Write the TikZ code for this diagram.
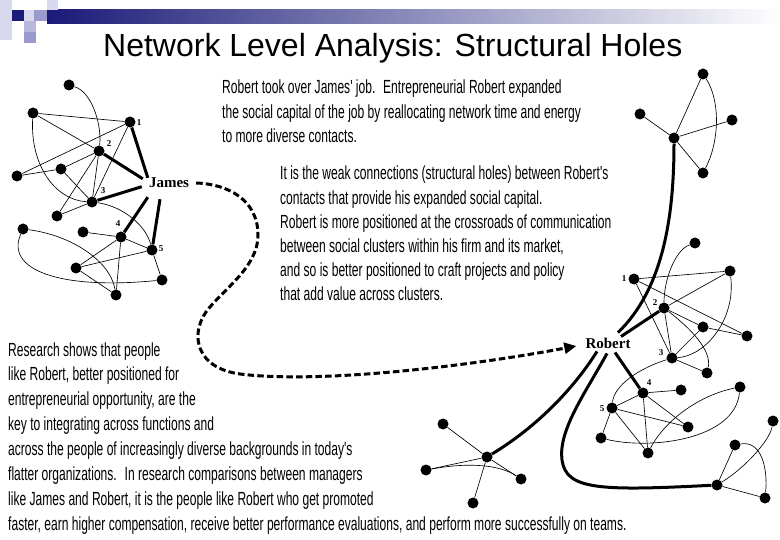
\documentclass[tikz,border=0pt]{standalone}
\usepackage{fontspec}
\setmainfont{Liberation Sans}
\newfontfamily\narrowfont[FakeStretch=0.635]{Liberation Sans}
\newfontfamily\labelserif{Liberation Serif}
\usetikzlibrary{arrows.meta,calc}
\definecolor{navy}{HTML}{1A1A78}
\definecolor{lav}{HTML}{9A9ACC}
\definecolor{lavlight}{HTML}{D8D8EE}
\definecolor{lavmid}{HTML}{B8B8DC}
\begin{document}
\begin{tikzpicture}[x=1pt,y=-1pt,
  dot/.style={circle,fill=black,inner sep=0pt,minimum size=11pt},
  tie/.style={line width=0.65pt},
  bond/.style={line width=3pt},
  body/.style={font=\narrowfont\fontsize{19}{20}\selectfont,anchor=base west,inner sep=0pt},
  num/.style={font=\labelserif\bfseries\fontsize{9}{9}\selectfont,inner sep=0pt},
  who/.style={font=\labelserif\bfseries\fontsize{15}{15}\selectfont,inner sep=1pt},
  trail/.style={line width=3pt,dash pattern=on 6.5pt off 3.2pt,-{Triangle[length=12pt,width=11pt]}}
  ]
\fill[white] (0,0) rectangle (780,540);
\useasboundingbox (0,0) rectangle (780,540);
% header
\shade[left color=navy,right color=white] (47,10) rectangle (780,24);
\fill[lavlight] (0,0) rectangle (12,40);
\fill[navy] (12,10) rectangle (24,21);
\fill[lavlight] (24,10) rectangle (34,21);
\fill[lav] (34,10) rectangle (47,21);
\fill[lavlight] (47,0) rectangle (58,10);
\fill[lavmid] (24,21) rectangle (36,32);
\fill[lav] (24,32) rectangle (36,43);
\node[anchor=base west,font=\fontsize{32}{32}\selectfont,inner sep=0pt] (title) at (103,57) {Network Level Analysis: Structural Holes};

% text blocks
\foreach \s [count=\i] in {{Robert took over James' job.~ Entrepreneurial Robert expanded},
  {the social capital of the job by reallocating network time and energy},
  {to more diverse contacts.}}
  \node[body] (ta-\i) at ({222},{94+(\i-1)*24.5}) {\s};
\foreach \s [count=\i] in {{It is the weak connections (structural holes) between Robert's},
  {contacts that provide his expanded social capital.},
  {Robert is more positioned at the crossroads of communication},
  {between social clusters within his firm and its market,},
  {and so is better positioned to craft projects and policy},
  {that add value across clusters.}}
  \node[body] (tb-\i) at ({280},{180+(\i-1)*24.2}) {\s};
\foreach \s [count=\i] in {{Research shows that people},
  {like Robert, better positioned for},
  {entrepreneurial opportunity, are the},
  {key to integrating across functions and},
  {across the people of increasingly diverse backgrounds in today's},
  {flatter organizations.~ In research comparisons between managers},
  {like James and Robert, it is the people like Robert who get promoted},
  {faster, earn higher compensation, receive better performance evaluations, and perform more successfully on teams.}}
  \node[body] (tc-\i) at ({8},{356+(\i-1)*24.9}) {\s};

% people
\node[who] (james) at (169,183) {James};
\node[who] (robert) at (608,343) {Robert};

% James network
\foreach \n/\x/\y in {j0/69/85, ja/33/113, j1/130/122, j2/99/151, jb/61/169, jc/17/176,
  j3/92/202, jd/57/216, je/23/229, jf/83/232, j4/121/237, j5/152/250, jg/76/268,
  jh/162/280, ji/116/295}
  \node[dot] (\n) at (\x,\y) {};
\node[num] (jl1) at (139,123) {1};
\node[num] (jl2) at (109,144) {2};
\node[num] (jl3) at (103,191) {3};
\node[num] (jl4) at (118,224) {4};
\node[num] (jl5) at (161,249) {5};
\draw[tie] (j0) .. controls (92,92) and (102,125) .. (j2);
\draw[tie] (ja) -- (j1);
\draw[tie] (ja) -- (j2);
\draw[tie] (ja) .. controls (30,165) and (55,200) .. (j3);
\draw[tie] (j3) .. controls (122,206) and (146,225) .. (j5);
\draw[tie] (jc) -- (j1);
\draw[tie] (jc) -- (jb);
\draw[tie] (jb) -- (j2);
\draw[tie] (jb) -- (j3);
\draw[tie] (j1) -- (j3);
\draw[tie] (j2) -- (j3);
\draw[tie] (j2) -- (jd);
\draw[tie] (j3) -- (jd);
\draw[tie] (j4) -- (jf);
\draw[tie] (j4) -- (jg);
\draw[tie] (j4) -- (ji);
\draw[tie] (j4) -- (j5);
\draw[tie] (jg) -- (j5);
\draw[tie] (j5) -- (jh);
\draw[tie] (jg) -- (ji);
\draw[tie] (je) .. controls (70,235) and (110,260) .. (ji);
\draw[tie] (je) .. controls (5,270) and (60,290) .. (jh);
\draw[bond] (j1) -- ($(james.north west)+(0,1)$);
\draw[bond] (j2) -- ($(james.north west)+(-5,2)$);
\draw[bond] (j3) -- ($(james.south west)+(-6,-2.5)$);
\draw[bond] (j4) -- ($(james.south west)+(0,8)$);
\draw[bond] (j5) -- ($(james.south)+(-9,10)$);

% dashed move
\draw[trail] ($(james.east)+(6,0)$) .. controls (228,184) and (258,200) .. (258,235)
  .. controls (258,268) and (222,290) .. (206,312)
  .. controls (190,335) and (196,368) .. (240,374)
  .. controls (320,384) and (470,366) .. ($(robert.west)+(-8,3)$);

% Robert cluster
\foreach \n/\x/\y in {rt/695/243, r1/634/279, ra/730/271, r2/664/308, rb/703/327, rc/747/336,
  r3/672/358, rd/707/373, r4/643/393, re/681/390, rf/740/387, r5/612/408, rg/688/427,
  rh/601/438, ri/648/453, rj/773/421, rk/735/445, rl/717/485, rm/765/498}
  \node[dot] (\n) at (\x,\y) {};
\node[num] (rl1) at (624,279) {1};
\node[num] (rl2) at (655,303) {2};
\node[num] (rl3) at (661,353) {3};
\node[num] (rl4) at (649,383) {4};
\node[num] (rl5) at (602,409) {5};
\draw[tie] (rt) .. controls (675,250) and (664,280) .. (r2);
\draw[tie] (r1) -- (ra);
\draw[tie] (r1) -- (rc);
\draw[tie] (r1) -- (r3);
\draw[tie] (r2) -- (ra);
\draw[tie] (r2) -- (rb);
\draw[tie] (r2) -- (r3);
\draw[tie] (r2) .. controls (690,328) and (712,350) .. (rd);
\draw[tie] (rb) -- (rc);
\draw[tie] (ra) .. controls (736,320) and (705,356) .. (r3);
\draw[tie] (rb) -- (r3);
\draw[tie] (r3) -- (rd);
\draw[tie] (r3) .. controls (640,368) and (614,385) .. (r5);
\draw[tie] (r4) -- (re);
\draw[tie] (r4) -- (r5);
\draw[tie] (r4) -- (rg);
\draw[tie] (r4) -- (ri);
\draw[tie] (r5) -- (rg);
\draw[tie] (r5) -- (rh);
\draw[tie] (r5) -- (ri);
\draw[tie] (rh) .. controls (650,450) and (735,440) .. (rf);
\draw[tie] (ri) .. controls (665,420) and (700,395) .. (rf);
\draw[tie] (rl) -- (rk);
\draw[tie] (rl) .. controls (745,468) and (770,440) .. (rj);
\draw[tie] (rk) .. controls (762,440) and (768,470) .. (rm);
\draw[tie] (rl) -- (rm);
% star
\foreach \n/\x/\y in {sc/487/457, s1/443/424, s2/426/470, s3/521/479, s4/473/503}
  \node[dot] (\n) at (\x,\y) {};
\draw[tie] (sc) -- (s1);
\draw[tie] (sc) -- (s2);
\draw[tie] (sc) -- (s3);
\draw[tie] (sc) -- (s4);
\draw[tie] (s2) .. controls (470,462) and (500,465) .. (s3);
% top right
\foreach \n/\x/\y in {tc/674/138, t1/703/74, t2/640/114, t3/732/120, t4/703/173}
  \node[dot] (\n) at (\x,\y) {};
\draw[tie] (tc) -- (t1);
\draw[tie] (tc) -- (t2);
\draw[tie] (tc) -- (t3);
\draw[tie] (tc) -- (t4);
\draw[tie] (t1) .. controls (720,100) and (720,140) .. (t4);
% Robert ties
\draw[bond] (tc) .. controls (674,220) and (662,290) .. ($(robert.north)+(10,-4)$);
\draw[bond] ($(robert.north)+(13,0)$) -- (r2);
\draw[bond] ($(robert.south)+(7,3)$) -- (r4);
\draw[bond] ($(robert.south)+(-11,2)$) .. controls (576,385) and (540,425) .. (sc);
\draw[bond] ($(robert.south)+(-1,4)$) .. controls (586,392) and (558,430) .. (562,460)
  .. controls (566,490) and (600,491) .. (rl);
\end{tikzpicture}
\end{document}
